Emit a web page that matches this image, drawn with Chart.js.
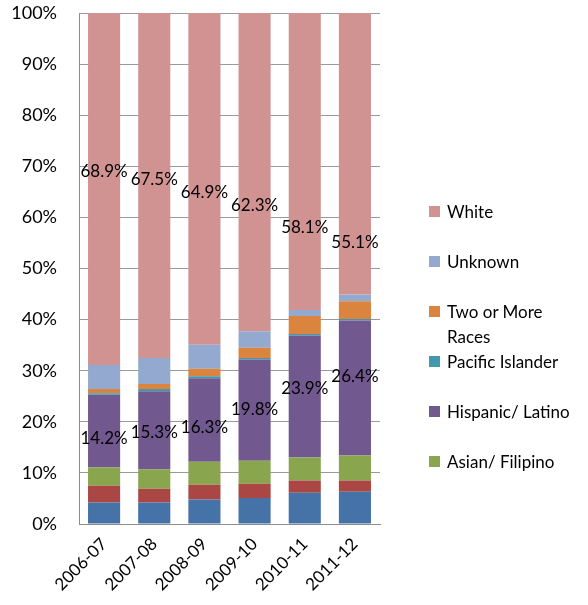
<!DOCTYPE html>
<html>
<head>
<meta charset="utf-8">
<script src="https://cdn.jsdelivr.net/npm/chart.js@4/dist/chart.umd.min.js"></script>
<style>
  html, body { margin: 0; padding: 0; background: #fff; }
  #wrap { position: relative; width: 588px; height: 605px; overflow: hidden; }
  #legend { position: absolute; left: 0; top: 0; width: 588px; height: 605px; pointer-events: none; }
  .li { position: absolute; left: 429px; font-family: Lato, "Open Sans", sans-serif; font-size: 17px; color: #000; line-height: 25px; }
  .sw { position: absolute; left: 0; top: 7px; width: 11px; height: 11px; }
  .tx { position: absolute; left: 18px; top: 0; width: 141px; white-space: normal; }
</style>
</head>
<body>
<div id="wrap">
  <canvas id="c" width="588" height="605"></canvas>
  <div id="legend"></div>
</div>
<script>
// ---- data ----
const categories = ['2006-07', '2007-08', '2008-09', '2009-10', '2010-11', '2011-12'];
const africanAmerican = [4.2, 4.2, 4.8, 5.1, 6.1, 6.3];
const americanIndian  = [3.3, 2.7, 2.9, 2.8, 2.4, 2.2];
const asianFilipino   = [3.6, 3.8, 4.5, 4.5, 4.5, 4.9];
const hispanicLatino  = [14.2, 15.3, 16.3, 19.8, 23.9, 26.4];
const pacificIslander = [0.3, 0.4, 0.4, 0.3, 0.3, 0.3];
const twoOrMore       = [0.8, 1.0, 1.5, 2.0, 3.5, 3.5];
const unknown         = [4.7, 5.1, 4.7, 3.2, 1.2, 1.3];
const white           = [68.9, 67.5, 64.9, 62.3, 58.1, 55.1];
const yTicks = [0, 10, 20, 30, 40, 50, 60, 70, 80, 90, 100];

const FONT = 'Lato, "Open Sans", sans-serif';

const datasets = [
  { label: 'African American', data: africanAmerican, backgroundColor: '#4572A7', legend: false },
  { label: 'American Indian', data: americanIndian, backgroundColor: '#AA4643', legend: false },
  { label: 'Asian/ Filipino', data: asianFilipino, backgroundColor: '#89A54E', legend: true },
  { label: 'Hispanic/ Latino', data: hispanicLatino, backgroundColor: '#71588F', legend: true, showLabel: true, labelOffset: -13 },
  { label: 'Pacific Islander', data: pacificIslander, backgroundColor: '#4198AF', legend: true },
  { label: 'Two or More Races', data: twoOrMore, backgroundColor: '#DB843D', legend: true },
  { label: 'Unknown', data: unknown, backgroundColor: '#93A9CF', legend: true },
  { label: 'White', data: white, backgroundColor: '#D19392', legend: true, showLabel: true, labelOffset: 0 }
].map(d => Object.assign({ borderWidth: 0, barPercentage: 0.64, categoryPercentage: 1.0 }, d));

const valueLabels = {
  id: 'valueLabels',
  afterDatasetsDraw(chart) {
    const ctx = chart.ctx;
    const y = chart.scales.y;
    ctx.save();
    ctx.font = '17px ' + FONT;
    ctx.fillStyle = '#000';
    ctx.textAlign = 'center';
    ctx.textBaseline = 'middle';
    chart.data.datasets.forEach((ds, di) => {
      if (!ds.showLabel) return;
      const meta = chart.getDatasetMeta(di);
      meta.data.forEach((bar, i) => {
        const v = ds.data[i];
        const py = y.getPixelForValue(v) + ds.labelOffset;
        ctx.fillText(v.toFixed(1) + '%', bar.x, py);
      });
    });
    ctx.restore();
  }
};

const chart = new Chart(document.getElementById('c'), {
  type: 'bar',
  data: { labels: categories, datasets },
  options: {
    responsive: false,
    animation: false,
    devicePixelRatio: 1,
    layout: { padding: { left: 0, top: 13, right: 208, bottom: 0 } },
    plugins: { legend: { display: false }, tooltip: { enabled: false } },
    scales: {
      x: {
        stacked: true,
        grid: { display: false, drawTicks: false },
        border: { display: true, color: '#8c8c8c', width: 1 },
        ticks: { font: { family: FONT, size: 17 }, color: '#000', minRotation: 45, maxRotation: 45, padding: 10 },
        afterFit(s) { s.height = 81; s.paddingLeft = 0; s.paddingRight = 0; }
      },
      y: {
        stacked: true,
        min: 0, max: 100,
        afterBuildTicks(s) { s.ticks = yTicks.map(v => ({ value: v })); },
        grid: { color: '#9a9a9a', lineWidth: 1, drawTicks: false },
        border: { display: true, color: '#8c8c8c', width: 1 },
        ticks: { font: { family: FONT, size: 18 }, color: '#000', padding: 22, callback: v => v + '%' },
        afterFit(s) { s.width = 79; s.paddingTop = 0; s.paddingBottom = 0; }
      }
    }
  },
  plugins: [valueLabels]
});

// HTML legend built from datasets (reverse order, as in the reference)
const leg = document.getElementById('legend');
const shown = chart.data.datasets.filter(d => d.legend).slice().reverse();
shown.forEach((d, i) => {
  const item = document.createElement('div');
  item.className = 'li';
  item.style.top = (199 + 50 * i) + 'px';
  const sw = document.createElement('div');
  sw.className = 'sw';
  sw.style.background = d.backgroundColor;
  const tx = document.createElement('div');
  tx.className = 'tx';
  tx.textContent = d.label;
  item.appendChild(sw);
  item.appendChild(tx);
  leg.appendChild(item);
});
</script>
</body>
</html>
